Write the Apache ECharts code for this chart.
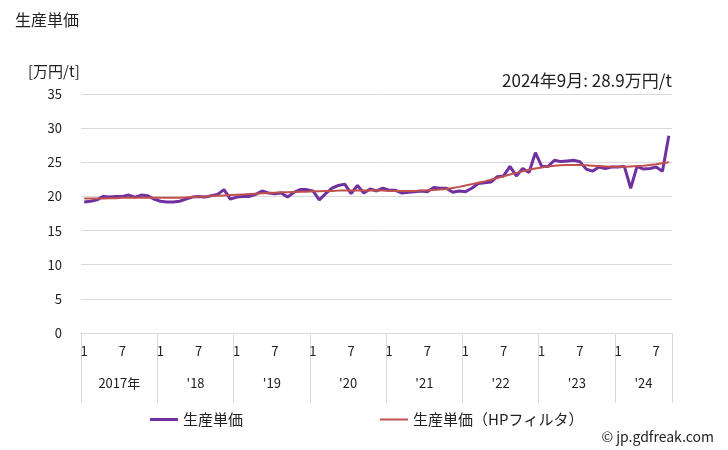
<!DOCTYPE html>
<html><head><meta charset="utf-8">
<script src="https://cdn.jsdelivr.net/npm/echarts@6/dist/echarts.min.js"></script>
<style>html,body{margin:0;padding:0;background:#fff}#c{width:728px;height:450px}</style>
</head><body><div id="c"></div>
<script>
const years = ['2017年', "'18", "'19", "'20", "'21", "'22", "'23", "'24"];
const monthsPerYear = [12, 12, 12, 12, 12, 12, 12, 9];
const price = [
  19.2, 19.3, 19.5, 20.0, 19.9, 20.0, 20.0, 20.2, 19.9, 20.2, 20.1, 19.6,
  19.3, 19.2, 19.2, 19.3, 19.6, 19.9, 20.0, 19.9, 20.1, 20.3, 21.0, 19.6,
  19.9, 20.0, 20.0, 20.3, 20.8, 20.5, 20.4, 20.5, 19.9, 20.6, 21.0, 21.0,
  20.8, 19.5, 20.4, 21.2, 21.6, 21.8, 20.4, 21.6, 20.5, 21.1, 20.8, 21.2,
  20.9, 20.9, 20.5, 20.6, 20.7, 20.8, 20.7, 21.3, 21.2, 21.2, 20.6, 20.8,
  20.7, 21.2, 21.9, 22.0, 22.1, 22.9, 23.0, 24.4, 23.0, 24.1, 23.5, 26.4,
  24.4, 24.4, 25.3, 25.1, 25.2, 25.3, 25.1, 24.0, 23.7, 24.3, 24.1, 24.3,
  24.3, 24.4, 21.2, 24.4, 24.0, 24.1, 24.3, 23.7, 28.9
];
const hp = [
  19.7, 19.7, 19.7, 19.7, 19.75, 19.75, 19.8, 19.8, 19.8, 19.8, 19.8, 19.8,
  19.8, 19.8, 19.8, 19.8, 19.85, 19.9, 19.95, 20.0, 20.05, 20.1, 20.15, 20.2,
  20.25, 20.3, 20.35, 20.4, 20.45, 20.5, 20.55, 20.6, 20.6, 20.65, 20.7, 20.7,
  20.75, 20.75, 20.8, 20.8, 20.85, 20.85, 20.85, 20.85, 20.85, 20.85, 20.85, 20.85,
  20.8, 20.8, 20.8, 20.8, 20.8, 20.85, 20.9, 20.95, 21.0, 21.1, 21.25, 21.4,
  21.6, 21.8, 22.0, 22.2, 22.45, 22.7, 22.95, 23.2, 23.45, 23.7, 23.9, 24.1,
  24.25, 24.4, 24.5, 24.55, 24.6, 24.6, 24.6, 24.55, 24.5, 24.45, 24.4, 24.35,
  24.35, 24.35, 24.4, 24.45, 24.5, 24.6, 24.7, 24.85, 25.0
];
const yTicks = [0, 5, 10, 15, 20, 25, 30, 35];

const months = [], yearCats = [], yearStart = [];
years.forEach((y, yi) => {
  const n = monthsPerYear[yi];
  const labelIdx = n === 12 ? 6 : Math.floor(n / 2);
  for (let m = 1; m <= n; m++) {
    months.push(String(m));
    yearStart.push(m === 1);
    yearCats.push(m - 1 === labelIdx ? (n === 12 ? '{s|' + y + '}' : '{c|' + y + '}') : '');
  }
});

const FONT = '"Noto Sans CJK JP", "Noto Sans", sans-serif';
const TXT = '#222';
const chart = echarts.init(document.getElementById('c'), null, {renderer: 'canvas'});
chart.setOption({
  animation: false,
  textStyle: {fontFamily: FONT},
  title: [
    {text: '生産単価', left: 10, top: 7, textStyle: {fontSize: 16, fontWeight: 'normal', color: TXT, fontFamily: FONT}},
    {text: '[万円/t]', left: 23, top: 59, textStyle: {fontSize: 15, fontWeight: 'normal', color: TXT, fontFamily: FONT}},
    {text: '2024年9月: 28.9万円/t', right: 51, top: 67, textStyle: {fontSize: 17, fontWeight: 'normal', color: TXT, fontFamily: FONT}},
    {text: '© jp.gdfreak.com', right: 9, top: 425, textStyle: {fontSize: 14, fontWeight: 'normal', color: TXT, fontFamily: FONT}}
  ],
  legend: [
    {data: ['生産単価'], left: 145, top: 407, itemWidth: 28, itemHeight: 3, icon: 'rect', itemGap: 5,
     textStyle: {fontSize: 15, color: TXT, fontFamily: FONT}},
    {data: ['生産単価（HPフィルタ）'], left: 375, top: 407, itemWidth: 28, itemHeight: 2, icon: 'rect',
     textStyle: {fontSize: 15, color: TXT, fontFamily: FONT}}
  ],
  grid: {left: 81, right: 56, top: 94, bottom: 117},
  xAxis: [
    {type: 'category', data: months, boundaryGap: true,
     axisLine: {show: true, lineStyle: {color: '#d9d9d9'}},
     axisTick: {show: false},
     axisLabel: {interval: (i, v) => v === '1' || v === '7', margin: 12, fontSize: 13, color: TXT, fontFamily: FONT}},
    {type: 'category', data: yearCats, boundaryGap: true, position: 'bottom', offset: 0,
     axisLine: {show: false},
     axisTick: {show: true, length: 70, interval: (i) => yearStart[i], lineStyle: {color: '#d9d9d9'}},
     axisLabel: {interval: (i, v) => v !== '', margin: 44, fontSize: 13, color: TXT, fontFamily: FONT,
       rich: {s: {padding: [0, 6, 0, 0], fontSize: 13, color: TXT, fontFamily: FONT},
              c: {fontSize: 13, color: TXT, fontFamily: FONT}}}}
  ],
  yAxis: {type: 'value', min: yTicks[0], max: yTicks[yTicks.length - 1], interval: 5,
    axisLine: {show: false}, axisTick: {show: false},
    splitLine: {lineStyle: {color: '#d9d9d9'}},
    axisLabel: {margin: 19, fontSize: 13, color: TXT, fontFamily: FONT}},
  series: [
    {name: '生産単価', type: 'line', data: price, xAxisIndex: 0, showSymbol: false, symbol: 'none',
     lineStyle: {color: '#7030A0', width: 3}, itemStyle: {color: '#7030A0'}, z: 2},
    {name: '生産単価（HPフィルタ）', type: 'line', data: hp, xAxisIndex: 0, showSymbol: false, symbol: 'none',
     lineStyle: {color: '#C0504D', width: 2}, itemStyle: {color: '#C0504D'}, z: 3}
  ]
});
</script></body></html>
